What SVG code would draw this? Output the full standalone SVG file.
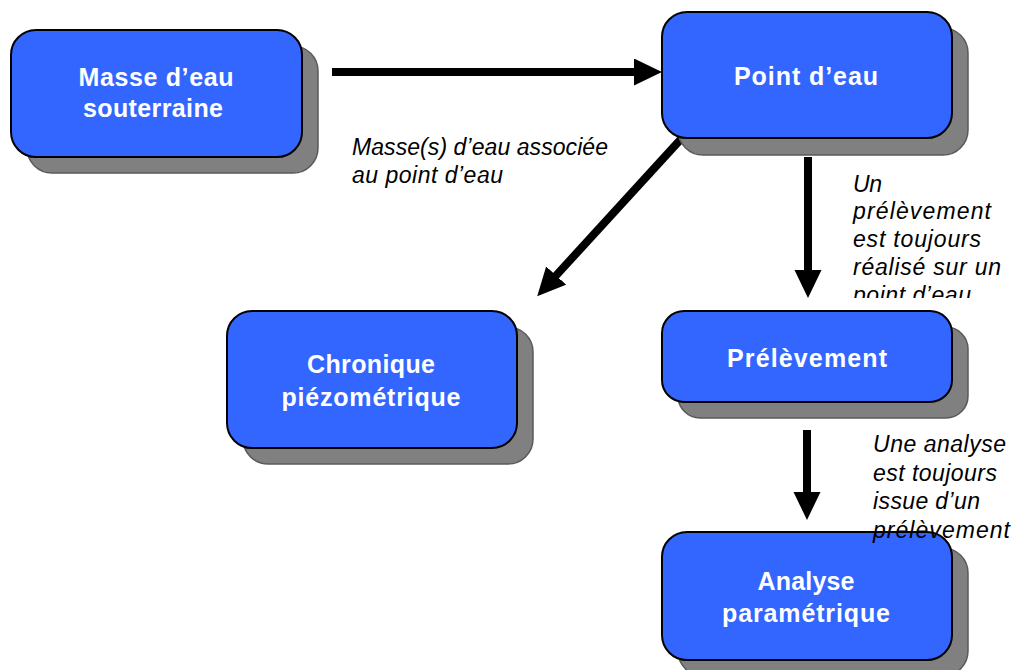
<svg xmlns="http://www.w3.org/2000/svg" width="1013" height="670" viewBox="0 0 1013 670">
<style>
.sh{fill:#808080;stroke:#5a5a5a;stroke-width:1.5}
.bx{fill:#3366FF;stroke:#000;stroke-width:2}
.t{font-family:"Liberation Sans",Arial,sans-serif;font-weight:bold;font-size:25px;fill:#fff;text-anchor:middle}
.l{font-family:"Liberation Sans",Arial,sans-serif;font-style:italic;font-size:23px;fill:#000}
.c{stroke:#000;stroke-width:8;fill:none;marker-end:url(#ah)}
</style>
<defs>
<marker id="ah" markerUnits="userSpaceOnUse" markerWidth="30" markerHeight="28" refX="8" refY="13.5" orient="auto">
<path d="M0,0 L28,13.5 L0,27 z" fill="#000"/>
</marker>
<clipPath id="clip1"><rect x="840" y="160" width="173" height="138"/></clipPath>
</defs>
<g id="connectors">
<line class="c" x1="332" y1="72" x2="642" y2="72"/>
<line class="c" x1="681" y1="139" x2="550.7" y2="281.4"/>
<line class="c" x1="808" y1="157" x2="808" y2="278"/>
<line class="c" x1="807" y1="430" x2="807" y2="500"/>
</g>
<g id="node-masse">
<rect class="sh" x="27" y="46" width="291" height="127" rx="25"/>
<rect class="bx" x="11" y="30" width="291" height="127" rx="25"/>
<text class="t" x="156" y="86" textLength="155" lengthAdjust="spacing">Masse d’eau</text>
<text class="t" x="153" y="117" textLength="140" lengthAdjust="spacing">souterraine</text>
</g>
<g id="node-point">
<rect class="sh" x="678" y="28" width="290" height="127" rx="25"/>
<rect class="bx" x="662" y="12" width="290" height="126" rx="25"/>
<text class="t" x="806" y="85" textLength="144" lengthAdjust="spacing">Point d’eau</text>
</g>
<g id="node-chronique">
<rect class="sh" x="243" y="327" width="290" height="137" rx="25"/>
<rect class="bx" x="227" y="311" width="290" height="137" rx="25"/>
<text class="t" x="371" y="373" textLength="128" lengthAdjust="spacing">Chronique</text>
<text class="t" x="371" y="406" textLength="179" lengthAdjust="spacing">piézométrique</text>
</g>
<g id="node-prelevement">
<rect class="sh" x="678" y="327" width="290" height="91" rx="22"/>
<rect class="bx" x="662" y="311" width="290" height="91" rx="22"/>
<text class="t" x="807" y="367" textLength="160" lengthAdjust="spacing">Prélèvement</text>
</g>
<g id="node-analyse">
<rect class="sh" x="678" y="548" width="290" height="128" rx="25"/>
<rect class="bx" x="662" y="532" width="290" height="128" rx="25"/>
<text class="t" x="806" y="590" textLength="97" lengthAdjust="spacing">Analyse</text>
<text class="t" x="806" y="622" textLength="168" lengthAdjust="spacing">paramétrique</text>
</g>
<g id="labels">
<text class="l" x="352" y="155" textLength="256" lengthAdjust="spacing">Masse(s) d’eau associée</text>
<text class="l" x="352" y="183" textLength="151" lengthAdjust="spacing">au point d’eau</text>
<g clip-path="url(#clip1)">
<text class="l" x="853" y="192" textLength="29" lengthAdjust="spacing">Un</text>
<text class="l" x="853" y="219" textLength="138" lengthAdjust="spacing">prélèvement</text>
<text class="l" x="853" y="247" textLength="128" lengthAdjust="spacing">est toujours</text>
<text class="l" x="853" y="275" textLength="148" lengthAdjust="spacing">réalisé sur un</text>
<text class="l" x="853" y="303" textLength="118" lengthAdjust="spacing">point d’eau</text>
</g>
<text class="l" x="873" y="452" textLength="133" lengthAdjust="spacing">Une analyse</text>
<text class="l" x="873" y="481" textLength="124" lengthAdjust="spacing">est toujours</text>
<text class="l" x="873" y="509" textLength="107" lengthAdjust="spacing">issue d’un</text>
<text class="l" x="873" y="538" textLength="137" lengthAdjust="spacing">prélèvement</text>
</g>
</svg>
